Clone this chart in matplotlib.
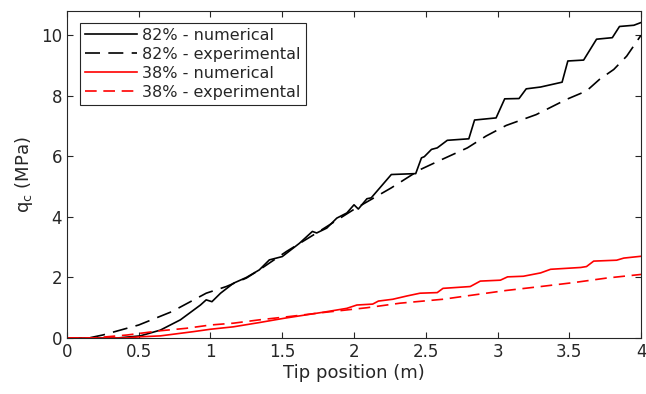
import matplotlib
matplotlib.use("Agg")
import matplotlib.pyplot as plt

# 82% - numerical
x_num82 = [0, 0.35, 0.51, 0.65, 0.79, 0.93, 0.97, 1.01, 1.07, 1.16, 1.25, 1.34, 1.41, 1.50,
           1.62, 1.71, 1.74, 1.81, 1.88, 1.95, 2.0, 2.03, 2.09, 2.12, 2.26, 2.43, 2.47, 2.49,
           2.54, 2.58, 2.65, 2.80, 2.84, 2.99, 3.05, 3.15, 3.20, 3.30, 3.45, 3.49, 3.60, 3.69,
           3.80, 3.85, 3.95, 4.0]
y_num82 = [0, 0, 0.07, 0.26, 0.6, 1.09, 1.26, 1.2, 1.48, 1.81, 2.0, 2.25, 2.58, 2.69,
           3.13, 3.52, 3.47, 3.63, 3.96, 4.13, 4.4, 4.26, 4.6, 4.63, 5.40, 5.43, 5.95, 5.99,
           6.23, 6.28, 6.53, 6.58, 7.20, 7.27, 7.90, 7.91, 8.23, 8.29, 8.45, 9.15, 9.18, 9.87,
           9.92, 10.29, 10.33, 10.42]

# 82% - experimental
x_exp82 = [0, 0.15, 0.25, 0.5, 0.73, 0.97, 1.11, 1.25, 1.34, 1.53, 1.75, 2.0, 2.26, 2.46,
           2.60, 2.79, 2.92, 3.06, 3.27, 3.48, 3.62, 3.71, 3.81, 3.90, 4.0]
y_exp82 = [0, 0, 0.1, 0.43, 0.87, 1.48, 1.7, 1.98, 2.25, 2.86, 3.5, 4.25, 4.96, 5.56,
           5.87, 6.28, 6.67, 7.02, 7.38, 7.88, 8.16, 8.54, 8.87, 9.31, 10.0]

# 38% - numerical
x_num38 = [0, 0.4, 0.51, 0.65, 0.88, 1.0, 1.16, 1.34, 1.51, 1.81, 1.95, 2.02, 2.13, 2.17,
           2.27, 2.37, 2.46, 2.58, 2.62, 2.81, 2.88, 3.02, 3.07, 3.18, 3.30, 3.37, 3.58, 3.62,
           3.67, 3.83, 3.88, 4.0]
y_num38 = [0, 0, 0.04, 0.07, 0.21, 0.29, 0.37, 0.51, 0.65, 0.87, 0.98, 1.09, 1.12, 1.22,
           1.28, 1.39, 1.48, 1.50, 1.64, 1.70, 1.88, 1.91, 2.02, 2.04, 2.15, 2.27, 2.33, 2.36,
           2.54, 2.57, 2.64, 2.70]

# 38% - experimental
x_exp38 = [0, 0.18, 0.42, 0.65, 0.83, 1.0, 1.16, 1.34, 1.55, 1.8, 2.09, 2.32, 2.62, 2.83,
           3.06, 3.30, 3.53, 3.76, 4.0]
y_exp38 = [0, 0, 0.1, 0.24, 0.32, 0.43, 0.49, 0.6, 0.71, 0.85, 1.0, 1.15, 1.28, 1.42,
           1.57, 1.70, 1.83, 1.98, 2.1]

xticks = [0, 0.5, 1, 1.5, 2, 2.5, 3, 3.5, 4]
xticklabels = ["0", "0.5", "1", "1.5", "2", "2.5", "3", "3.5", "4"]
yticks = [0, 2, 4, 6, 8, 10]

plt.rcParams["font.family"] = ["DejaVu Sans"]
grey = "#262626"

fig = plt.figure(figsize=(6.46, 3.94), dpi=100)
ax = fig.add_axes([0.1037, 0.1421, 0.8886, 0.8299])

ax.plot(x_num82, y_num82, color="black", lw=1.2, label="82% - numerical")
ax.plot(x_exp82, y_exp82, color="black", lw=1.2, dashes=(9, 5), label="82% - experimental")
ax.plot(x_num38, y_num38, color="red", lw=1.2, label="38% - numerical")
ax.plot(x_exp38, y_exp38, color="red", lw=1.2, dashes=(7, 4), label="38% - experimental")

ax.set_xlim(0, 4)
ax.set_ylim(0, 10.8)
ax.set_xticks(xticks)
ax.set_xticklabels(xticklabels)
ax.set_yticks(yticks)
ax.tick_params(direction="in", top=True, right=True, length=4, width=0.8,
               colors=grey, labelsize=12, labelcolor=grey)
for s in ax.spines.values():
    s.set_color(grey)
    s.set_linewidth(0.8)

ax.set_xlabel("Tip position (m)", fontsize=13, color=grey, labelpad=2)
ax.set_ylabel(r"q$_\mathregular{c}$ (MPa)", fontsize=13, color=grey, labelpad=4)

leg = ax.legend(loc="upper left", bbox_to_anchor=(0.0226, 0.963), borderaxespad=0,
                fontsize=11.5, handlelength=3.3, handletextpad=0.3, labelspacing=0.25,
                borderpad=0.3, fancybox=False, framealpha=1, edgecolor=grey)
leg.get_frame().set_linewidth(0.8)
for t in leg.get_texts():
    t.set_color(grey)

fig.savefig("out.png", dpi=100)
